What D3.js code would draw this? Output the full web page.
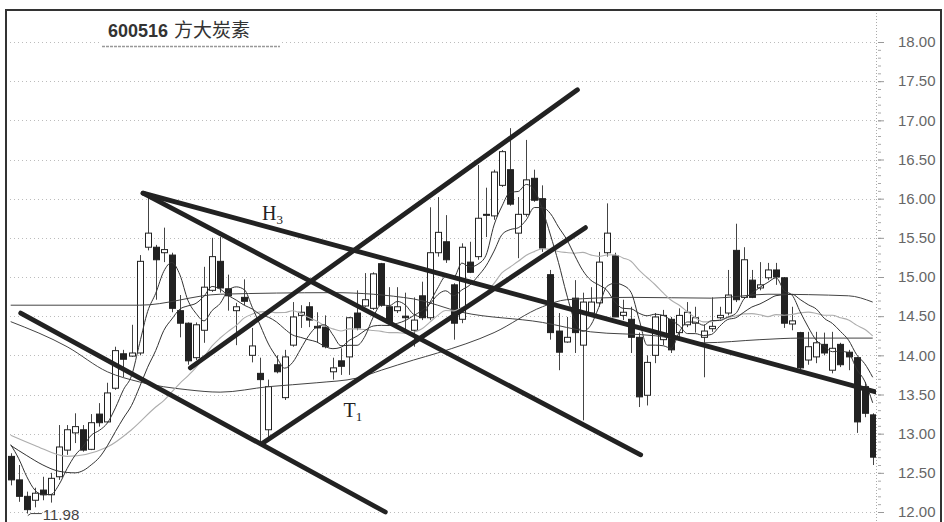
<!DOCTYPE html>
<html>
<head>
<meta charset="utf-8">
<script src="https://cdn.jsdelivr.net/npm/d3@7"></script>
<style>
    body { margin: 0; background: #fff; }
    svg { display: block; }
</style>
</head>
<body>
<div id="chart"></div>
<script>
// Daily candles (price in yuan)
const opens = [12.71, 12.41, 12.20, 12.15, 12.28, 12.22, 12.45, 12.79, 13.01, 13.05,
    12.80, 13.25, 13.15, 13.58, 14.02, 13.99, 14.03, 15.38, 15.38, 15.31,
    15.28, 14.57, 14.41, 13.97, 14.32, 14.83, 15.20, 14.85, 14.57, 14.74,
    14.00, 13.77, 13.05, 13.88, 13.46, 14.13, 14.51, 14.62, 14.37, 14.36,
    13.79, 13.93, 13.98, 14.54, 14.63, 14.60, 15.17, 14.62, 14.57, 14.50,
    14.32, 14.76, 14.48, 15.31, 15.45, 14.90, 14.46, 15.19, 15.26, 15.80,
    15.78, 16.17, 16.37, 15.56, 15.80, 16.26, 16.00, 15.03, 14.31, 14.17,
    14.73, 14.13, 14.54, 14.67, 15.31, 15.27, 14.51, 14.46, 14.23, 13.49,
    14.00, 14.20, 14.46, 14.29, 14.39, 14.41, 14.23, 14.34, 14.48, 14.54,
    15.34, 14.74, 14.96, 14.86, 14.99, 15.09, 14.99, 14.40, 14.29, 13.94,
    13.98, 14.14, 13.81, 14.14, 14.04, 13.97, 13.60, 13.24];
const highs = [12.75, 12.60, 12.26, 12.31, 12.45, 12.50, 13.11, 13.11, 13.26, 13.11,
    13.25, 13.39, 13.65, 14.11, 14.07, 14.39, 15.28, 16.07, 15.41, 15.63,
    15.31, 14.77, 14.42, 14.42, 15.13, 15.50, 15.51, 15.03, 14.67, 14.97,
    14.35, 13.97, 13.69, 14.00, 14.07, 14.68, 14.64, 14.68, 14.55, 14.51,
    13.97, 14.09, 14.49, 14.83, 15.05, 15.06, 15.18, 14.87, 14.87, 14.80,
    14.74, 14.94, 15.89, 16.02, 15.79, 14.92, 15.43, 15.45, 16.43, 16.14,
    16.37, 16.62, 16.90, 16.02, 16.75, 16.37, 16.17, 15.09, 14.54, 14.49,
    14.96, 14.80, 14.87, 15.32, 15.94, 15.31, 14.71, 14.62, 14.29, 14.00,
    14.54, 14.58, 14.49, 14.60, 14.68, 14.62, 14.39, 14.74, 14.62, 15.09,
    15.68, 15.38, 15.09, 15.19, 15.18, 15.18, 15.00, 14.62, 14.30, 14.30,
    14.30, 14.29, 14.30, 14.16, 14.07, 13.98, 13.66, 13.26];
const lows = [12.34, 12.13, 11.98, 12.06, 12.15, 12.12, 12.41, 12.73, 12.88, 12.77,
    12.79, 13.09, 13.14, 13.56, 13.72, 13.98, 14.00, 15.34, 14.71, 15.19,
    14.55, 14.23, 13.88, 13.94, 14.16, 14.81, 14.80, 14.57, 14.13, 14.64,
    13.91, 12.86, 12.92, 13.77, 13.43, 14.11, 14.35, 14.36, 14.16, 14.09,
    13.69, 13.75, 13.75, 14.32, 14.62, 14.58, 14.62, 14.39, 14.54, 14.32,
    14.11, 14.45, 14.45, 15.26, 15.18, 14.20, 14.41, 15.05, 15.22, 15.51,
    15.73, 16.15, 15.91, 15.24, 15.77, 15.96, 15.32, 14.20, 13.81, 14.16,
    14.03, 13.17, 14.51, 14.62, 15.26, 14.49, 14.45, 14.03, 13.34, 13.36,
    13.90, 14.13, 14.03, 14.23, 14.36, 14.29, 13.72, 14.30, 14.45, 14.51,
    14.68, 14.73, 14.73, 14.83, 14.96, 14.90, 14.35, 14.32, 13.81, 13.88,
    13.90, 14.00, 13.77, 13.85, 13.81, 13.01, 13.21, 12.60];
const closes = [12.41, 12.20, 12.03, 12.24, 12.22, 12.43, 12.83, 13.05, 13.09, 12.79,
    13.14, 13.14, 13.52, 14.06, 13.95, 14.03, 15.20, 15.56, 15.22, 15.35,
    14.60, 14.41, 13.93, 14.39, 14.87, 15.26, 14.86, 14.76, 14.62, 14.69,
    14.12, 13.69, 13.60, 13.79, 13.98, 14.49, 14.55, 14.45, 14.35, 14.11,
    13.84, 13.86, 14.48, 14.35, 14.71, 15.04, 14.64, 14.43, 14.62, 14.48,
    14.45, 14.48, 15.31, 15.57, 15.22, 14.41, 15.38, 15.06, 15.75, 15.79,
    16.34, 16.60, 15.93, 15.80, 16.24, 15.98, 15.37, 14.29, 14.04, 14.23,
    14.29, 14.68, 14.68, 15.19, 15.56, 14.49, 14.55, 14.23, 13.47, 13.91,
    14.49, 14.51, 14.07, 14.51, 14.55, 14.48, 14.31, 14.37, 14.51, 14.77,
    14.71, 15.22, 14.74, 14.90, 15.09, 15.00, 14.41, 14.44, 13.84, 14.11,
    14.16, 14.03, 14.09, 13.88, 13.98, 13.15, 13.26, 12.70];

const ma5Lead = [[0, 12.86], [1, 12.68], [2, 12.45], [3, 12.28]];
const ma10Lead = [[0, 12.85], [2, 12.72], [4, 12.60], [6, 12.52], [8, 12.50]];
const ma20Lead = [[0, 12.98], [3, 12.85], [7, 12.71], [12, 12.83], [15, 13.05], [18, 13.34]];
const ma60 = [[0, 14.43], [7, 14.11], [12, 13.79], [16, 13.66], [22, 13.56], [26, 13.53],
    [32, 13.60], [38, 13.65], [43, 13.71], [46, 13.81], [50, 13.94], [53, 14.03],
    [60, 14.29], [66, 14.62], [69, 14.71], [77, 14.74], [87, 14.73], [94, 14.78],
    [104, 14.76], [107, 14.68]];
const ma120 = [[0, 14.64], [16, 14.64], [26, 14.78], [40, 14.80], [50, 14.72], [56, 14.55],
    [66, 14.42], [72, 14.30], [80, 14.25], [86, 14.16], [93, 14.20], [98, 14.22], [107, 14.22]];

// Hand drawn trend lines: [candle index, price] at each end
const trendLines = [
    [[1.24, 14.54], [46.5, 12.00]],
    [[16.43, 16.07], [107.5, 13.53]],
    [[16.43, 16.07], [78.2, 12.73]],
    [[22.3, 13.84], [70.35, 17.39]],
    [[31.3, 12.88], [71.34, 15.63]]
];
const lineLabels = [
    { main: 'H', sub: '3', i: 31.2, p: 15.73 },
    { main: 'T', sub: '1', i: 41.3, p: 13.21 }
];

const yTicks = d3.range(12, 18.001, 0.5);
const yMinorTicks = d3.range(12, 18.001, 0.1);
const title = { code: '600516', name: '方大炭素' };
const lowMark = { i: 2, p: 11.98 };

const width = 944, height = 522;
const plot = { left: 6, right: 876, top: 10, bottom: 522 };

const x = d3.scaleLinear().domain([0, opens.length - 1]).range([10.7, 872.7]);
const y = d3.scaleLinear().domain([12, 18]).range([512, 42]);

const candles = opens.map((o, i) => ({ i, o, h: highs[i], l: lows[i], c: closes[i] }));

const svg = d3.select('#chart').append('svg')
    .attr('width', width)
    .attr('height', height)
    .attr('font-family', 'Liberation Sans, Arial, sans-serif');

svg.append('defs').append('clipPath').attr('id', 'plot-clip')
    .append('rect')
    .attr('x', plot.left)
    .attr('y', plot.top)
    .attr('width', plot.right - plot.left)
    .attr('height', plot.bottom - plot.top);

// Grid
svg.append('g').attr('class', 'grid')
    .selectAll('line').data(yTicks).join('line')
    .attr('x1', plot.left).attr('x2', plot.right)
    .attr('y1', d => Math.round(y(d)) + 0.5).attr('y2', d => Math.round(y(d)) + 0.5)
    .attr('stroke', '#bcbcbc')
    .attr('stroke-dasharray', '1,3');

// Y axis on the right
const axisG = svg.append('g').attr('transform', `translate(${plot.right + 2},0)`);
axisG.call(d3.axisRight(y).tickValues(yMinorTicks).tickSize(3).tickFormat(''));
axisG.select('.domain').remove();
axisG.selectAll('.tick line').attr('stroke', '#aaa');

const majorG = svg.append('g').attr('transform', `translate(${plot.right + 2},0)`);
majorG.call(d3.axisRight(y).tickValues(yTicks).tickSize(6).tickFormat(d3.format('.2f')));
majorG.select('.domain').remove();
majorG.selectAll('.tick line').attr('stroke', '#999');
majorG.selectAll('text')
    .attr('x', 20)
    .attr('font-size', 15)
    .attr('fill', '#666')
    .attr('font-family', 'Liberation Sans, Arial, sans-serif');

svg.append('line')
    .attr('x1', plot.right + 0.5).attr('x2', plot.right + 0.5)
    .attr('y1', plot.top).attr('y2', plot.bottom)
    .attr('stroke', '#aaa')
    .attr('stroke-dasharray', '1,2');

const chart = svg.append('g').attr('clip-path', 'url(#plot-clip)');

// Candles
const bodyW = 6;
const candleG = chart.append('g').attr('class', 'candles');
candleG.selectAll('line').data(candles).join('line')
    .attr('x1', d => Math.round(x(d.i)) + 0.5)
    .attr('x2', d => Math.round(x(d.i)) + 0.5)
    .attr('y1', d => y(d.h))
    .attr('y2', d => y(d.l))
    .attr('stroke', '#444')
    .attr('stroke-width', 1);
candleG.selectAll('rect').data(candles).join('rect')
    .attr('x', d => Math.round(x(d.i)) - bodyW / 2 + 0.5)
    .attr('width', bodyW)
    .attr('y', d => y(Math.max(d.o, d.c)))
    .attr('height', d => Math.max(1, Math.abs(y(d.o) - y(d.c))))
    .attr('fill', d => d.c >= d.o ? '#fff' : '#222')
    .attr('stroke', '#222')
    .attr('stroke-width', 1);

// Moving averages
function movingAverage(n, lead) {
    const pts = lead.map(([i, v]) => ({ i, v }));
    for (let i = n - 1; i < closes.length; i++) {
        pts.push({ i, v: d3.mean(closes.slice(i - n + 1, i + 1)) });
    }
    return pts;
}
const maLine = d3.line().x(d => x(d.i)).y(d => y(d.v)).curve(d3.curveMonotoneX);
const maSeries = [
    { pts: ma120.map(([i, v]) => ({ i, v })), color: '#444', w: 1 },
    { pts: ma60.map(([i, v]) => ({ i, v })), color: '#444', w: 1 },
    { pts: movingAverage(20, ma20Lead), color: '#adadad', w: 1.1 },
    { pts: movingAverage(10, ma10Lead), color: '#333', w: 1 },
    { pts: movingAverage(5, ma5Lead), color: '#333', w: 1 }
];
chart.append('g').attr('class', 'ma')
    .selectAll('path').data(maSeries).join('path')
    .attr('d', d => maLine(d.pts))
    .attr('fill', 'none')
    .attr('stroke', d => d.color)
    .attr('stroke-width', d => d.w);

// Trend lines
chart.append('g').attr('class', 'trend')
    .selectAll('line').data(trendLines).join('line')
    .attr('x1', d => x(d[0][0])).attr('y1', d => y(d[0][1]))
    .attr('x2', d => x(d[1][0])).attr('y2', d => y(d[1][1]))
    .attr('stroke', '#222')
    .attr('stroke-width', 4.8)
    .attr('stroke-linecap', 'round');

const labelText = svg.append('g').selectAll('text').data(lineLabels).join('text')
    .attr('x', d => x(d.i))
    .attr('y', d => y(d.p))
    .attr('font-family', 'Liberation Serif, Times New Roman, serif')
    .attr('font-size', 20)
    .attr('fill', '#222');
labelText.append('tspan').text(d => d.main);
labelText.append('tspan').attr('font-size', 13).attr('dy', 4).text(d => d.sub);

// Lowest price mark
const lx = x(lowMark.i), ly = y(lowMark.p);
svg.append('path')
    .attr('d', `M${lx + 1},${ly + 2} L${lx + 4},${ly} H${lx + 15}`)
    .attr('fill', 'none')
    .attr('stroke', '#444')
    .attr('stroke-width', 1);
svg.append('text')
    .attr('x', lx + 16)
    .attr('y', ly + 6)
    .attr('font-size', 15)
    .attr('fill', '#444')
    .text(lowMark.p.toFixed(2));

// Title
svg.append('rect')
    .attr('x', 100).attr('y', 12).attr('width', 182).attr('height', 34)
    .attr('fill', '#fff');
const titleText = svg.append('text')
    .attr('x', 108)
    .attr('y', 37)
    .attr('fill', '#333');
titleText.append('tspan')
    .attr('font-weight', 'bold')
    .attr('font-size', 18)
    .attr('font-family', 'Liberation Sans, Arial, sans-serif')
    .text(title.code);
titleText.append('tspan')
    .attr('dx', 6)
    .attr('font-size', 19)
    .attr('font-family', 'Noto Sans CJK SC, sans-serif')
    .text(title.name);
svg.append('line')
    .attr('x1', 102).attr('x2', 280)
    .attr('y1', 46.5).attr('y2', 46.5)
    .attr('stroke', '#999')
    .attr('stroke-width', 1.5)
    .attr('stroke-dasharray', '3,1');

// Frame
svg.append('path')
    .attr('d', `M${plot.left},${height} V${plot.top} H941 V${height}`)
    .attr('fill', 'none')
    .attr('stroke', '#333')
    .attr('stroke-width', 2);
</script>
</body>
</html>
